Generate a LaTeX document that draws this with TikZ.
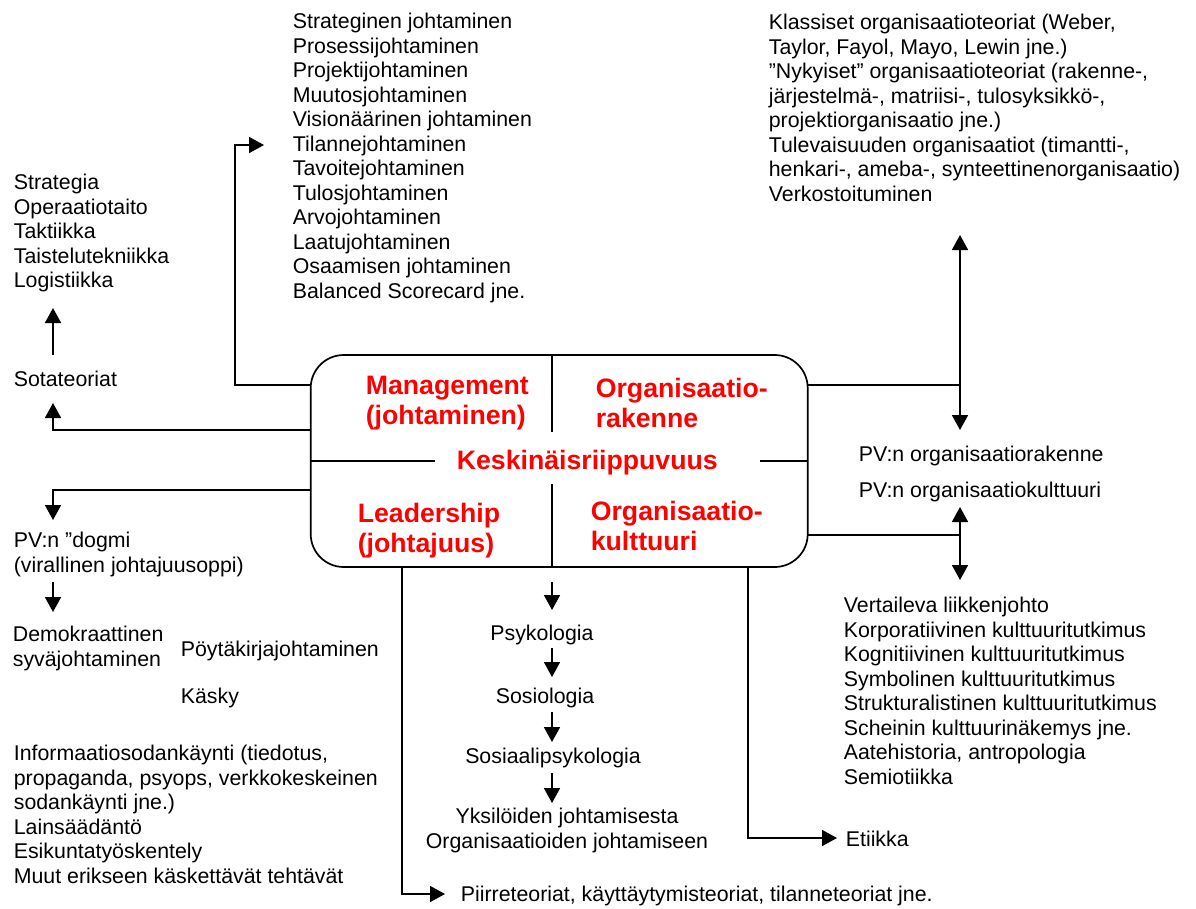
\documentclass[tikz,border=0pt]{standalone}
\usepackage{fontspec}
\setmainfont{Liberation Sans}
\usetikzlibrary{arrows.meta}
\newcommand{\fr}{\fontsize{21.33}{24.5}\selectfont}
\newcommand{\fbr}{\fontsize{26.67}{30}\selectfont\bfseries}
\begin{document}
\begin{tikzpicture}[x=1pt,y=-1pt,line width=1.7pt,
  lst/.style={anchor=north west,align=left,inner sep=0pt,font=\fr},
  clst/.style={anchor=north,align=center,inner sep=0pt,font=\fr},
  redtxt/.style={anchor=north west,align=left,inner sep=0pt,font=\fbr,text=red},
  arr/.style={-{Triangle[length=15pt,width=16pt]}},
  darr/.style={{Triangle[length=15pt,width=16pt]}-{Triangle[length=15pt,width=16pt]}},
  mainbox/.style={draw,rounded corners=33pt,minimum width=497pt,minimum height=212pt,inner sep=0pt}]
\useasboundingbox (0,0) rectangle (1196,908);

% central box
\node[mainbox] (box) at (559.2,461) {};
\node[redtxt] (mg) at (365,372.6) {\strut Management\\(johtaminen)};
\node[redtxt] (or1) at (595,375.6) {\strut Organisaatio-\\rakenne};
\node[redtxt] (kes) at (456,447.6) {\strut Keskinäisriippuvuus};
\node[redtxt] (le) at (357,500.6) {\strut Leadership\\(johtajuus)};
\node[redtxt] (or2) at (590,498.6) {\strut Organisaatio-\\kulttuuri};

\coordinate (dvt) at (552,355);
\coordinate (dvm1) at (552,432);
\coordinate (dvm2) at (552,484);
\coordinate (dvb) at (552,567);
\coordinate (dhl) at (310.7,461);
\coordinate (dhl2) at (435,461);
\coordinate (dhr2) at (760,461);
\coordinate (dhr) at (807.7,461);
\draw (dvt) -- (dvm1);
\draw (dvm2) -- (dvb);
\draw (dhl) -- (dhl2);
\draw (dhr2) -- (dhr);

% text nodes
\node[lst] (sotalist) at (13,171.5) {\strut Strategia\\Operaatiotaito\\Taktiikka\\Taistelutekniikka\\Logistiikka};
\node[lst] (sota) at (13,368.5) {\strut Sotateoriat};
\node[lst] (mglist) at (292,10.5) {\strut Strateginen johtaminen\\Prosessijohtaminen\\Projektijohtaminen\\Muutosjohtaminen\\Visionäärinen johtaminen\\Tilannejohtaminen\\Tavoitejohtaminen\\Tulosjohtaminen\\Arvojohtaminen\\Laatujohtaminen\\Osaamisen johtaminen\\Balanced Scorecard jne.};
\node[lst] (orglist) at (768,11.5) {\strut Klassiset organisaatioteoriat (Weber,\\Taylor, Fayol, Mayo, Lewin jne.)\\”Nykyiset” organisaatioteoriat (rakenne-,\\järjestelmä-, matriisi-, tulosyksikkö-,\\projektiorganisaatio jne.)\\Tulevaisuuden organisaatiot (timantti-,\\henkari-, ameba-, synteettinenorganisaatio)\\Verkostoituminen};
\node[lst] (pvr) at (858,443.5) {\strut PV:n organisaatiorakenne};
\node[lst] (pvk) at (858,479.5) {\strut PV:n organisaatiokulttuuri};
\node[lst] (kultlist) at (843,594.5) {\strut Vertaileva liikkenjohto\\Korporatiivinen kulttuuritutkimus\\Kognitiivinen kulttuuritutkimus\\Symbolinen kulttuuritutkimus\\Strukturalistinen kulttuuritutkimus\\Scheinin kulttuurinäkemys jne.\\Aatehistoria, antropologia\\Semiotiikka};
\node[lst] (eti) at (845,828.5) {\strut Etiikka};
\node[lst] (dogmi) at (13,529.5) {\strut PV:n ”dogmi\\(virallinen johtajuusoppi)};
\node[lst] (demo) at (12,623.5) {\strut Demokraattinen\\syväjohtaminen};
\node[lst] (poy) at (180,638.5) {\strut Pöytäkirjajohtaminen};
\node[lst] (kas) at (180,685.5) {\strut Käsky};
\node[lst] (info) at (13,742.5) {\strut Informaatiosodankäynti (tiedotus,\\propaganda, psyops, verkkokeskeinen\\sodankäynti jne.)\\Lainsäädäntö\\Esikuntatyöskentely\\Muut erikseen käskettävät tehtävät};
\node[lst] (piir) at (460,883.5) {\strut Piirreteoriat, käyttäytymisteoriat, tilanneteoriat jne.};
\node[clst] (psy) at (542,622.5) {\strut Psykologia};
\node[clst] (sos) at (545,685.5) {\strut Sosiologia};
\node[clst] (sps) at (553,745.5) {\strut Sosiaalipsykologia};
\node[clst] (yks) at (567,805.5) {\strut Yksilöiden johtamisesta\\Organisaatioiden johtamiseen};

% connector coordinates
\coordinate (bm) at (311,385);
\coordinate (tm) at (264,145);
\coordinate (bs) at (311,430);
\coordinate (ts) at (53,403);
\coordinate (bd) at (311,490);
\coordinate (td) at (53,520);
\coordinate (ss) at (53,355);
\coordinate (st) at (53,308);
\coordinate (ds) at (53,582);
\coordinate (dt) at (53,612);
\coordinate (bp) at (402,567);
\coordinate (tp) at (445,894);
\coordinate (be) at (748,567);
\coordinate (te) at (837,838);
\coordinate (br1) at (807.7,385);
\coordinate (j1) at (960,385);
\coordinate (u1) at (960,235);
\coordinate (l1) at (960,430);
\coordinate (br2) at (807.7,535);
\coordinate (j2) at (960,535);
\coordinate (u2) at (960,507);
\coordinate (l2) at (960,580);
\coordinate (m1s) at (552,582);
\coordinate (m1t) at (552,610);
\coordinate (m2s) at (552,648);
\coordinate (m2t) at (552,677);
\coordinate (m3s) at (552,712);
\coordinate (m3t) at (552,742);
\coordinate (m4s) at (552,773);
\coordinate (m4t) at (552,803);

% connectors
\draw[arr] (bm) -- (bm -| 235,0) |- (tm);
\draw[arr] (bs) -| (ts);
\draw[arr] (bd) -| (td);
\draw[arr] (ss) -- (st);
\draw[arr] (ds) -- (dt);
\draw[arr] (bp) |- (tp);
\draw[arr] (be) |- (te);
\draw (br1) -- (j1);
\draw[darr] (u1) -- (l1);
\draw (br2) -- (j2);
\draw[darr] (u2) -- (l2);
\draw[arr] (m1s) -- (m1t);
\draw[arr] (m2s) -- (m2t);
\draw[arr] (m3s) -- (m3t);
\draw[arr] (m4s) -- (m4t);
\end{tikzpicture}
\end{document}
